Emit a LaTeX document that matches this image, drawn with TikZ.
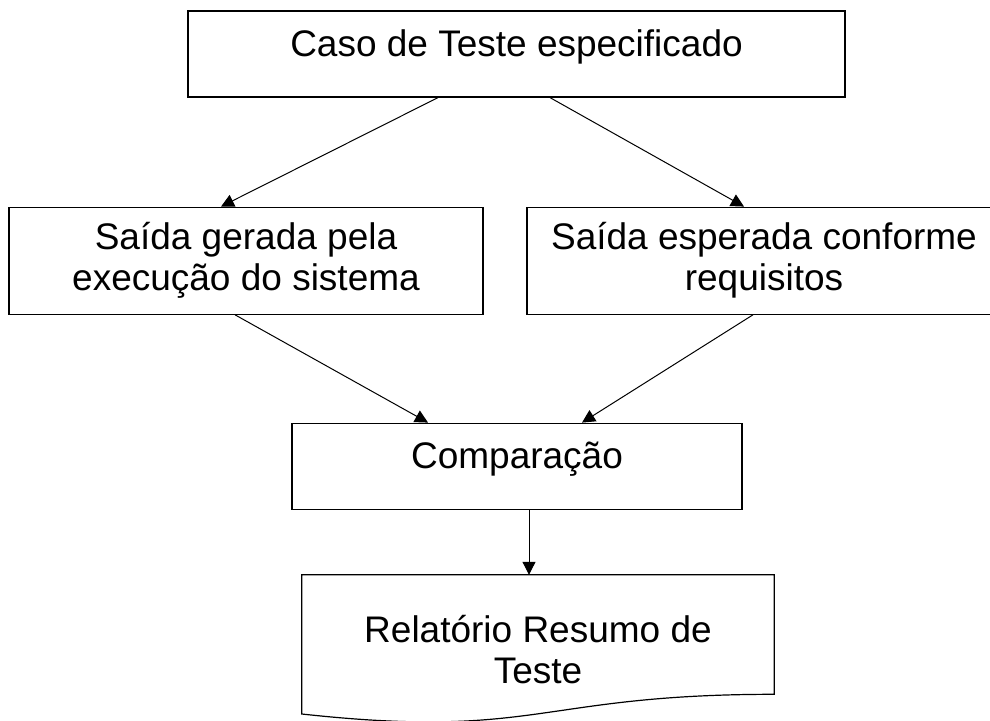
\documentclass[tikz,border=0pt]{standalone}
\usepackage{fontspec}
\setmainfont{Liberation Sans}
\usepackage{tikz}
\usetikzlibrary{positioning, calc, arrows.meta}

\begin{document}
\begin{tikzpicture}
    [
        x=1pt, y=1pt,
        every node/.style={font=\fontsize{37}{41}\selectfont},
        box/.style={rectangle, draw, line width=1.2pt, inner sep=0pt},
        onebox/.style={box, minimum width=#1, text height=45pt, text depth=41pt},
        twobox/.style={box, minimum width=474pt, minimum height=107pt, align=center},
        arr/.style={-{Triangle[length=13pt, width=13pt]}, line width=1pt}
    ]
    \path[use as bounding box, clip] (0,0) rectangle (990,-720);
    \node (test) [onebox=657pt] at (516.5,-54) {Caso de Teste especificado};
    \node (gen) [twobox, below=109pt of test, xshift=-270.5pt] {Saída gerada pela\\execução do sistema};
    \node (expd) [twobox, below=109pt of test, xshift=247.5pt] {Saída esperada conforme\\requisitos};
    \node (comp) [onebox=450pt, below=325pt of test, xshift=0.5pt] {Comparação};
    \node (report) [minimum width=472pt, minimum height=149pt, inner sep=0pt,
                    below=65pt of comp, xshift=21pt, align=center] {Relatório Resumo de\\Teste};
    \draw[line width=1.2pt] (report.north west) -- (report.north east)
        -- ($(report.north east)+(0,-119.5)$)
        .. controls ($(report.north)+(0,-119.5)$) and ($(report.north)+(0,-165)$)
        .. ($(report.north west)+(0,-139.2)$) -- cycle;
    \draw[arr] ([xshift=-78.5pt]test.south) -- ([xshift=-25pt]gen.north);
    \draw[arr] ([xshift=33.5pt]test.south) -- ([xshift=-20pt]expd.north);
    \draw[arr] ([xshift=-11pt]gen.south) -- ([xshift=-89pt]comp.north);
    \draw[arr] ([xshift=-11pt]expd.south) -- ([xshift=65pt]comp.north);
    \draw[arr] ([xshift=-9pt]report.north |- comp.south) -- ([xshift=-9pt]report.north);
\end{tikzpicture}
\end{document}
